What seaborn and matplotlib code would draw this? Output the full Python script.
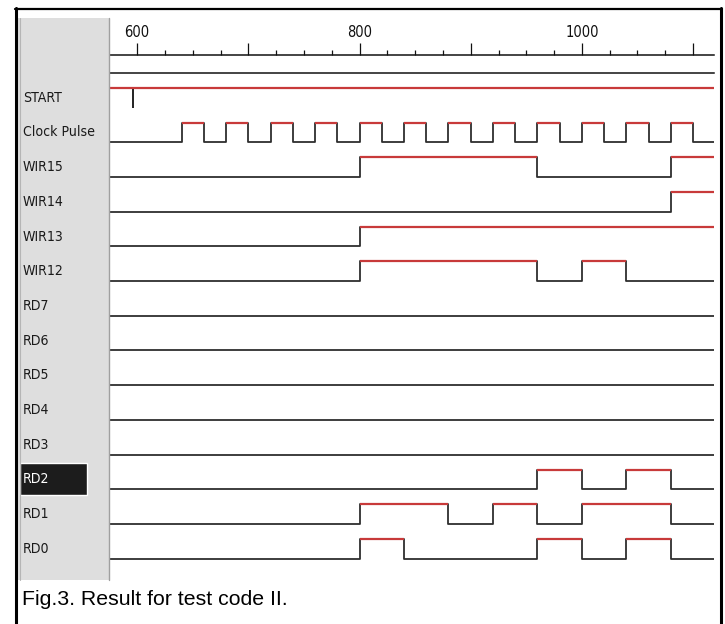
import numpy as np
import pandas as pd
import seaborn as sns
import matplotlib.pyplot as plt
from matplotlib import font_manager
from matplotlib.patches import Rectangle
from matplotlib.lines import Line2D
from matplotlib.ticker import FixedLocator, FixedFormatter, MultipleLocator
from matplotlib.transforms import blended_transform_factory

# signal names, top to bottom
signals = ["START", "Clock Pulse", "WIR15", "WIR14", "WIR13", "WIR12",
           "RD7", "RD6", "RD5", "RD4", "RD3", "RD2", "RD1", "RD0"]

# initial level of each signal and the times where it toggles
init_levels = [1, 0, 0, 0, 0, 0, 0, 0, 0, 0, 0, 0, 0, 0]
toggles = {
    "START": [],
    "Clock Pulse": [640, 660, 680, 700, 720, 740, 760, 780, 800, 820, 840, 860,
                    880, 900, 920, 940, 960, 980, 1000, 1020, 1040, 1060, 1080, 1100],
    "WIR15": [800, 960, 1080],
    "WIR14": [1080],
    "WIR13": [800],
    "WIR12": [800, 960, 1000, 1040],
    "RD7": [], "RD6": [], "RD5": [], "RD4": [], "RD3": [],
    "RD2": [960, 1000, 1040, 1080],
    "RD1": [800, 880, 920, 960, 1000, 1080],
    "RD0": [800, 840, 960, 1000, 1040, 1080],
}
start_marker = 596
t_window = (575.6, 1118.8)
ruler_major = [600, 700, 800, 900, 1000, 1100]
ruler_labels = ["600", "", "800", "", "1000", ""]
selected = "RD2"
caption = "Fig.3. Result for test code II."

W, H = 725, 624


def fx(px):
    return px / W


def fy(py):
    return 1 - py / H


sns.set_style("white")
plt.rcParams['font.family'] = ['Liberation Sans', 'DejaVu Sans']

# the simulator uses a narrow font for the labels; pick one if there is any
fonts = font_manager.fontManager.ttflist
names = {f.name for f in fonts}
if 'Liberation Sans Narrow' in names:
    label_font = dict(family=['Liberation Sans Narrow', 'DejaVu Sans'], fontsize=11.5)
    ruler_size = 11
elif any(f.name == 'DejaVu Sans' and f.stretch == 'condensed' for f in fonts):
    label_font = dict(family=['DejaVu Sans'], fontstretch='condensed', fontsize=10.1)
    ruler_size = 10.5
else:
    label_font = dict(family=['Liberation Sans', 'DejaVu Sans'], fontsize=9.2)
    ruler_size = 9.5

fig = plt.figure(figsize=(7.25, 6.24), dpi=100)
fig.patch.set_facecolor('white')

red = '#c83a3a'
dark = '#2e2e2e'
amp = 0.562

# waveform area
ax = fig.add_axes([fx(110), fy(580), fx(714) - fx(110), fy(74) - fy(580)])
ax.patch.set_visible(False)
for i, name in enumerate(signals):
    lev = init_levels[i]
    xs, ys = [t_window[0]], [i - amp * lev]
    highs = []
    seg_start = t_window[0]
    for e in toggles[name]:
        if lev == 1:
            highs.append((seg_start, e))
        xs += [e, e]
        ys += [i - amp * lev, i - amp * (1 - lev)]
        lev = 1 - lev
        seg_start = e
    if lev == 1:
        highs.append((seg_start, t_window[1]))
    xs.append(t_window[1])
    ys.append(i - amp * lev)
    if name != "START":
        sns.lineplot(x=xs, y=ys, sort=False, estimator=None, color=dark,
                     lw=1.3, ax=ax)
    for a, b in highs:
        ax.hlines(i - amp, a, b, color=red, lw=1.6, zorder=3)

ax.vlines(start_marker, -amp, 0.02, color='#111111', lw=1.3)
ax.set_xlim(*t_window)
ax.set_ylim((580 - 107.5) / 34.7, (74 - 107.5) / 34.7)
ax.axis('off')

# signal labels in the grey panel
trans = blended_transform_factory(fig.transFigure, ax.transData)
sel = signals.index(selected)
ax.add_patch(Rectangle((fx(20), sel - 0.755), fx(87) - fx(20), 0.92,
                       transform=trans, facecolor='#1c1c1c', clip_on=False, zorder=1))
for i, name in enumerate(signals):
    ax.text(fx(23), i - 0.28, name, transform=trans, va='center', ha='left',
            color='white' if name == selected else '#1a1a1a',
            clip_on=False, zorder=2, **label_font)

# time ruler
rax = fig.add_axes([fx(110), fy(73), fx(714) - fx(110), fy(55) - fy(73)])
rax.set_facecolor('none')
rax.set_xlim(*t_window)
rax.set_yticks([])
rax.spines['left'].set_visible(False)
rax.spines['right'].set_visible(False)
for s in ['top', 'bottom']:
    rax.spines[s].set_linewidth(1.1)
    rax.spines[s].set_color('#111111')
rax.xaxis.tick_top()
rax.xaxis.set_major_locator(FixedLocator(ruler_major))
rax.xaxis.set_major_formatter(FixedFormatter(ruler_labels))
rax.xaxis.set_minor_locator(MultipleLocator(25))
rax.tick_params(axis='x', which='major', length=8.6, width=0.9, pad=2,
                labelsize=ruler_size, colors='#111111')
rax.tick_params(axis='x', which='minor', length=3.6, width=0.9, colors='#111111')
for lbl in rax.get_xticklabels():
    lbl.set_fontproperties(font_manager.FontProperties(
        family=label_font['family'], stretch=label_font.get('fontstretch', 'normal'),
        size=ruler_size))

# grey label panel and frame
fig.patches.append(Rectangle((fx(18), fy(580)), fx(109) - fx(18), fy(18) - fy(580),
                             transform=fig.transFigure, facecolor='#dedede',
                             edgecolor='none', zorder=-1))
fig.add_artist(Line2D([fx(109), fx(109)], [fy(18), fy(580)], color='#a0a0a0', lw=1.0))
fig.add_artist(Line2D([fx(19.5), fx(19.5)], [fy(18), fy(580)], color='#b5b5b5', lw=0.8))
fig.add_artist(Line2D([fx(15.5), fx(15.5)], [fy(7.5), fy(630)], color='black', lw=2.2))
fig.add_artist(Line2D([fx(14.5), fx(721.5)], [fy(8.5), fy(8.5)], color='black', lw=1.6))
fig.add_artist(Line2D([fx(720.5), fx(720.5)], [fy(7.5), fy(630)], color='black', lw=2.2))

fig.text(fx(22.5), fy(605), caption, fontsize=15.3, va='baseline', ha='left',
         family=['Liberation Sans', 'DejaVu Sans'], color='black')

plt.savefig('out.png', dpi=100)
